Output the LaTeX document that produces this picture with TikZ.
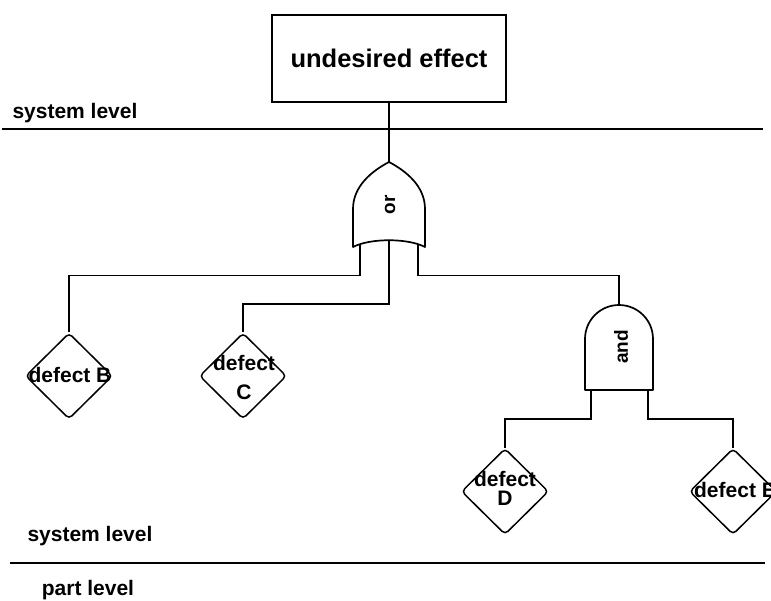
\documentclass[tikz,border=0pt]{standalone}
\usepackage{fontspec}
\setmainfont{Liberation Sans}
\usetikzlibrary{shapes.geometric}
\begin{document}
\begin{tikzpicture}[x=1pt,y=-1pt,
  ln/.style={line width=1.5pt},
  gate/.style={line width=1.7pt, line join=round},
  dia/.style={draw, diamond, line width=1.5pt, rounded corners=4pt, minimum width=87pt, minimum height=86pt, inner sep=0pt},
  lbl/.style={font=\fontsize{21}{23}\selectfont\bfseries, inner sep=0pt},
  glbl/.style={font=\fontsize{19}{21}\selectfont\bfseries, inner sep=0pt, rotate=90},
  title/.style={draw, line width=2pt, minimum width=234pt, minimum height=87pt, font=\fontsize{25.5}{28}\selectfont\bfseries}]
\clip (0,0) rectangle (771,600);
\fill[white] (0,0) rectangle (771,600);

% level lines and labels
\coordinate (t1) at (2,129);
\coordinate (t2) at (763,129);
\coordinate (b1) at (10,563);
\coordinate (b2) at (765,563);
\draw[ln] (t1) -- (t2);
\draw[ln] (b1) -- (b2);
\node[lbl] (sys1) at (75,113) {system level};
\node[lbl] (sys2) at (90,536) {system level};
\node[lbl] (part) at (88,590) {part level};

% top event
\node[title] (ue) at (389,58.5) {undesired effect};

% OR gate
\draw[gate] (353,247) -- (353,209) .. controls (353,186) and (372,171) .. (389,162)
  .. controls (406,171) and (425,186) .. (425,209) -- (425,247)
  .. controls (408,238) and (370,238) .. cycle;
\coordinate (ortop) at (389,162);
\coordinate (orL) at (360,244.5);
\coordinate (orM) at (389,241);
\coordinate (orR) at (418,244.5);
\node[glbl] (ortxt) at (390,205) {or};

% AND gate
\draw[gate] (585,390) -- (585,339) arc (180:360:34) -- (653,390) -- cycle;
\coordinate (andtop) at (619,305);
\coordinate (andL) at (591,390);
\coordinate (andR) at (648,390);
\node[glbl] (andtxt) at (621,347) {and};

% basic events
\node[dia] (B) at (69,376) {};
\node[dia] (C) at (243,376) {};
\node[dia] (D) at (505,491.5) {};
\node[dia] (E) at (733,491.5) {};
\node[lbl] (Bt) at (70,375) {defect B};
\node[lbl, align=center, font=\fontsize{21}{29}\selectfont\bfseries] (Ct) at (244,377) {defect\\C};
\node[lbl, align=center, font=\fontsize{21}{19}\selectfont\bfseries] (Dt) at (505,488) {defect\\D};
\node[lbl] (Et) at (735,490) {defect E};

% connectors
\draw[ln] (ue.south) -- (ortop);
\draw[ln] (orL) -- ++(0,31) -| (B.north);
\draw[ln] (orM) -- ++(0,63) -| (C.north);
\draw[ln] (orR) -- ++(0,31) -| (andtop);
\draw[ln] (andL) -- ++(0,29) -| (D.north);
\draw[ln] (andR) -- ++(0,29) -| (E.north);
\end{tikzpicture}
\end{document}
